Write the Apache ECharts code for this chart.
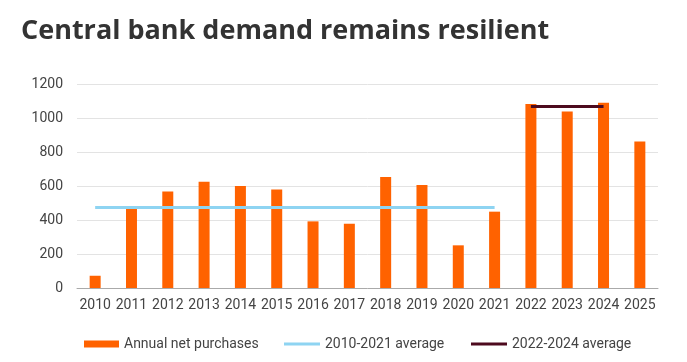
<!DOCTYPE html>
<html><head><meta charset="utf-8">
<script src="https://cdn.jsdelivr.net/npm/echarts@6/dist/echarts.min.js"></script>
<style>html,body{margin:0;padding:0;background:#fff}#c{width:687px;height:362px}</style>
</head><body><div id="c"></div>
<script>
const categories = ['2010','2011','2012','2013','2014','2015','2016','2017','2018','2019','2020','2021','2022','2023','2024','2025'];
const purchases = [72, 468, 568, 625, 600, 580, 392, 378, 653, 606, 251, 449, 1082, 1038, 1090, 862];
const avg2010_2021 = [474,474,474,474,474,474,474,474,474,474,474,474,null,null,null,null];
const avg2022_2024 = [null,null,null,null,null,null,null,null,null,null,null,null,1068,1068,1068,null];
const yTicks = [0,200,400,600,800,1000,1200];

const chart = echarts.init(document.getElementById('c'));
const font = 'Roboto, "Open Sans", sans-serif';
const legendText = {fontFamily: font, fontSize: 14, color: '#444'};
chart.setOption({
  animation: false,
  title: {
    text: 'Central bank demand remains resilient',
    left: 16, top: 13,
    textStyle: {fontFamily: '"Open Sans", sans-serif', fontSize: 27, fontWeight: 'bold', color: '#333333'}
  },
  grid: {left: 77, right: 29, top: 84, bottom: 74},
  legend: [
    {left: 79, top: 332, itemWidth: 35, itemHeight: 7, textStyle: legendText,
     data: [{name: 'Annual net purchases', icon: 'rect'}]},
    {left: 279, top: 332, itemWidth: 36, itemHeight: 3, textStyle: legendText,
     data: [{name: '2010-2021 average', icon: 'rect'}]},
    {left: 466, top: 332, itemWidth: 36, itemHeight: 3, textStyle: legendText,
     data: [{name: '2022-2024 average', icon: 'rect'}]}
  ],
  xAxis: {
    type: 'category', data: categories,
    axisLine: {lineStyle: {color: '#aaaaaa', width: 1}},
    axisTick: {length: 5, lineStyle: {color: '#aaaaaa'}},
    axisLabel: {fontFamily: font, fontSize: 14, color: '#444', margin: 10, interval: 0}
  },
  yAxis: {
    type: 'value', min: yTicks[0], max: yTicks[yTicks.length-1], interval: 200,
    axisLine: {show: false}, axisTick: {show: false},
    splitLine: {lineStyle: {color: '#e3e3e3', width: 1}},
    axisLabel: {fontFamily: font, fontSize: 14, color: '#444', margin: 14, formatter: v => String(v)}
  },
  series: [
    {name: 'Annual net purchases', type: 'bar', data: purchases, barWidth: 11,
     itemStyle: {color: '#FF6200'}},
    {name: '2010-2021 average', type: 'line', data: avg2010_2021, symbol: 'none',
     lineStyle: {color: '#8ED4F2', width: 3}, itemStyle: {color: '#8ED4F2'}, z: 3},
    {name: '2022-2024 average', type: 'line', data: avg2022_2024, symbol: 'none',
     lineStyle: {color: '#4D0A1E', width: 3}, itemStyle: {color: '#4D0A1E'}, z: 3}
  ]
});
</script></body></html>
